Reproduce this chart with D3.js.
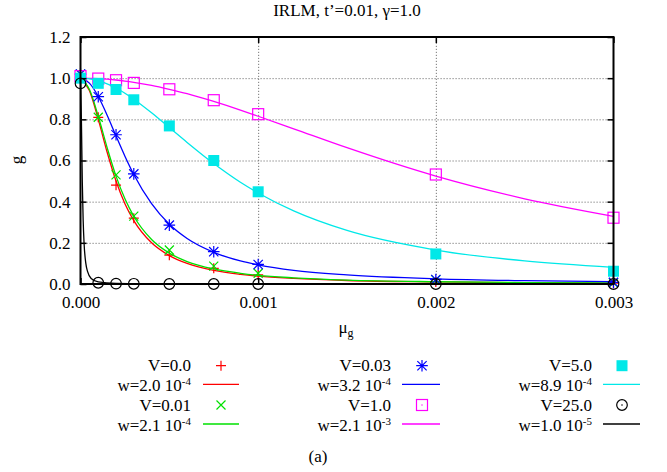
<!DOCTYPE html>
<html><head><meta charset="utf-8">
<script src="https://cdn.jsdelivr.net/npm/d3@7"></script>
<style>
body{margin:0;background:#fff}
text{font-family:"Liberation Serif","Times New Roman",serif;fill:#000}
</style>
</head><body>
<svg id="c" width="667" height="472"></svg>
<script>
// ---------- data ----------
const title = "IRLM, t\u2019=0.01, \u03b3=1.0";
const xTicks = [0, 0.001, 0.002, 0.003];
const xTickLabels = ["0.000", "0.001", "0.002", "0.003"];
const yTicks = [0, 0.2, 0.4, 0.6, 0.8, 1.0, 1.2];
const yTickLabels = ["0.0", "0.2", "0.4", "0.6", "0.8", "1.0", "1.2"];

// measured points (mu_g)
const muPoints = [0, 0.0001, 0.0002, 0.0003, 0.0005, 0.00075, 0.001, 0.002, 0.003];
const gV00  = [1.00, 0.81, 0.48, 0.32, 0.14, 0.076, 0.044, 0.010, 0.004];
const gV001 = [1.02, 0.81, 0.53, 0.33, 0.165, 0.087, 0.052, 0.020, 0.006];
const gV003 = [1.02, 0.91, 0.725, 0.535, 0.286, 0.157, 0.095, 0.022, 0.008];
const gV1   = [1.01, 0.998, 0.99, 0.977, 0.946, 0.893, 0.825, 0.532, 0.322];
const gV5   = [1.00, 0.975, 0.945, 0.895, 0.768, 0.60, 0.448, 0.146, 0.062];
const gV25  = [0.975, 0.006, 0.002, 0.001, 0.0, 0.0, 0.0, 0.0, 0.0];

// fitted curves
const muCurve = [0, 0.00005, 0.0001, 0.00015, 0.0002, 0.00025, 0.0003, 0.0004, 0.0005, 0.0006, 0.00075, 0.0009, 0.001, 0.0012, 0.0015, 0.002, 0.0025, 0.003];
const fitW20e4 = [1.0, 0.94, 0.80, 0.64, 0.50, 0.39, 0.308, 0.20, 0.138, 0.10, 0.066, 0.047, 0.038, 0.027, 0.017, 0.010, 0.006, 0.004];
const fitW21e4 = [1.0, 0.946, 0.815, 0.662, 0.524, 0.414, 0.329, 0.216, 0.15, 0.109, 0.073, 0.052, 0.042, 0.030, 0.019, 0.011, 0.007, 0.005];
const fitW32e4 = [1.0, 0.976, 0.911, 0.82, 0.719, 0.621, 0.532, 0.39, 0.29, 0.221, 0.154, 0.112, 0.093, 0.066, 0.044, 0.025, 0.016, 0.011];
const fitW21e3 = [1.0, 0.999, 0.998, 0.995, 0.991, 0.986, 0.98, 0.965, 0.946, 0.925, 0.887, 0.845, 0.815, 0.754, 0.662, 0.524, 0.414, 0.329];
const fitW89e4 = [1.0, 0.997, 0.988, 0.972, 0.952, 0.927, 0.898, 0.832, 0.76, 0.688, 0.585, 0.494, 0.442, 0.355, 0.26, 0.165, 0.112, 0.081];
const muCurveBlack = [0, 0.000005, 0.00001, 0.000015, 0.00002, 0.00003, 0.00004, 0.00006, 0.0001, 0.0002, 0.0005, 0.001, 0.002, 0.003];
const fitW10e5 = [1.0, 0.80, 0.50, 0.31, 0.20, 0.10, 0.06, 0.027, 0.01, 0.003, 0.0005, 0.0001, 0, 0];

const vLabels = ["V=0.0", "V=0.01", "V=0.03", "V=1.0", "V=5.0", "V=25.0"];
const wMantissa = ["w=2.0 10", "w=2.1 10", "w=3.2 10", "w=2.1 10", "w=8.9 10", "w=1.0 10"];
const wExponent = ["-4", "-4", "-4", "-3", "-4", "-5"];
const colors = ["#ff0000", "#00e000", "#0000ff", "#ff00ff", "#00e8e8", "#000000"];
const symbols = ["plus", "cross", "star", "osquare", "fsquare", "ocircle"];

const series = [
  {pts: gV00,  cx: muCurve, cy: fitW20e4},
  {pts: gV001, cx: muCurve, cy: fitW21e4},
  {pts: gV003, cx: muCurve, cy: fitW32e4},
  {pts: gV1,   cx: muCurve, cy: fitW21e3},
  {pts: gV5,   cx: muCurve, cy: fitW89e4},
  {pts: gV25,  cx: muCurveBlack, cy: fitW10e5}
].map((s, i) => Object.assign(s, {v: vLabels[i], wm: wMantissa[i], we: wExponent[i], color: colors[i], sym: symbols[i]}));

// ---------- layout ----------
const L = 80.5, R = 613.5, T = 37, B = 284;
const svg = d3.select("#c");
const x = d3.scaleLinear().domain([0, 0.003]).range([L, R]);
const y = d3.scaleLinear().domain([0, 1.2]).range([B, T]);

// grid
const gridStyle = g => {
  g.select(".domain").remove();
  g.selectAll("line").attr("stroke", "#777").attr("stroke-width", 1).attr("stroke-dasharray", "1.2,1.8");
};
svg.append("g").attr("transform", `translate(0,${B})`)
  .call(d3.axisBottom(x).tickValues(xTicks.slice(1, -1)).tickSize(-(B - T)).tickFormat(""))
  .call(gridStyle);
svg.append("g").attr("transform", `translate(${L},0)`)
  .call(d3.axisLeft(y).tickValues(yTicks.slice(1, -1)).tickSize(-(R - L)).tickFormat(""))
  .call(gridStyle);

// marker drawing
function drawMarker(g, sym, color, s, legend) {
  const st = {stroke: color, "stroke-width": 1.2, fill: "none"};
  const apply = (el, o) => { for (const k in o) el.attr(k, o[k]); return el; };
  if (sym === "plus") apply(g.append("path").attr("d", `M${-s},0H${s}M0,${-s}V${s}`), st);
  else if (sym === "cross") { const c = s * 0.9; apply(g.append("path").attr("d", `M${-c},${-c}L${c},${c}M${-c},${c}L${c},${-c}`), st); }
  else if (sym === "star") { const c = s * 0.8; apply(g.append("path").attr("d", `M${-s},0H${s}M0,${-s}V${s}M${-c},${-c}L${c},${c}M${-c},${c}L${c},${-c}`), st); }
  else if (sym === "osquare") {
    apply(g.append("rect").attr("x", -s).attr("y", -s).attr("width", 2 * s).attr("height", 2 * s), st);
    if (legend) g.append("rect").attr("x", -0.6).attr("y", -0.6).attr("width", 1.2).attr("height", 1.2).attr("fill", color);
  }
  else if (sym === "fsquare") g.append("rect").attr("x", -s).attr("y", -s).attr("width", 2 * s).attr("height", 2 * s).attr("fill", color);
  else if (sym === "ocircle") {
    apply(g.append("circle").attr("r", s), st);
    if (legend) g.append("circle").attr("r", 0.8).attr("fill", color);
  }
}
const symSize = {plus: 5, cross: 5, star: 5.8, osquare: 5.5, fsquare: 5.5, ocircle: 5.3};

const line = d3.line().curve(d3.curveMonotoneX);
series.forEach(s => {
  svg.append("path")
    .attr("d", line(s.cx.map((m, i) => [x(m), y(s.cy[i])])))
    .attr("fill", "none").attr("stroke", s.color).attr("stroke-width", 1.3);
  muPoints.forEach((m, i) => {
    const g = svg.append("g").attr("transform", `translate(${x(m)},${y(s.pts[i])})`);
    drawMarker(g, s.sym, s.color, symSize[s.sym], false);
  });
});

// axes (ticks inward on all four sides)
const axStyle = g => {
  g.select(".domain").remove();
  g.selectAll(".tick line").attr("stroke", "#000").attr("stroke-width", 1.5);
  g.selectAll("text").attr("font-size", 17).attr("font-family", "Liberation Serif, serif").attr("fill", "#000");
};
svg.append("g").attr("transform", `translate(0,${B})`)
  .call(d3.axisBottom(x).tickValues(xTicks).tickSize(-6).tickPadding(12).tickFormat((d, i) => xTickLabels[i]))
  .call(axStyle);
svg.append("g").attr("transform", `translate(0,${T})`)
  .call(d3.axisTop(x).tickValues(xTicks).tickSize(-6).tickFormat(""))
  .call(axStyle);
svg.append("g").attr("transform", `translate(${L},0)`)
  .call(d3.axisLeft(y).tickValues(yTicks).tickSize(-6).tickPadding(10).tickFormat((d, i) => yTickLabels[i]))
  .call(axStyle);
svg.append("g").attr("transform", `translate(${R},0)`)
  .call(d3.axisRight(y).tickValues(yTicks).tickSize(-6).tickFormat(""))
  .call(axStyle);

// frame
svg.append("rect").attr("x", L).attr("y", T).attr("width", R - L).attr("height", B - T)
  .attr("fill", "none").attr("stroke", "#000").attr("stroke-width", 2);

// title and labels
svg.append("text").attr("x", 347).attr("y", 16).attr("text-anchor", "middle").attr("font-size", 17).text(title);
const xl = svg.append("text").attr("x", 346).attr("y", 333).attr("text-anchor", "middle").attr("font-size", 17);
xl.append("tspan").text("\u03bc");
xl.append("tspan").attr("font-size", 12).attr("dy", 4).text("g");
svg.append("text").attr("transform", "translate(22,160) rotate(-90)").attr("text-anchor", "middle").attr("font-size", 17).text("g");
svg.append("text").attr("x", 318).attr("y", 462).attr("text-anchor", "middle").attr("font-size", 17).text("(a)");

// legend
const colTextRight = [191, 391, 592];
const colMarkerX = [221, 422, 622];
const colLineX = [[203, 239], [402, 440], [603, 640]];
const rowMarkerY = [365.7, 405];
const rowLineY = [384.3, 424];
series.forEach((s, i) => {
  const c = Math.floor(i / 2), r = i % 2;
  svg.append("text").attr("x", colTextRight[c]).attr("y", rowMarkerY[r] + 5.5)
    .attr("text-anchor", "end").attr("font-size", 17).text(s.v);
  const g = svg.append("g").attr("transform", `translate(${colMarkerX[c]},${rowMarkerY[r]})`);
  drawMarker(g, s.sym, s.color, symSize[s.sym], true);
  const t = svg.append("text").attr("x", colTextRight[c]).attr("y", rowLineY[r] + 6.5)
    .attr("text-anchor", "end").attr("font-size", 17);
  t.append("tspan").text(s.wm);
  t.append("tspan").attr("font-size", 11).attr("dy", -5.5).text(s.we);
  svg.append("line").attr("x1", colLineX[c][0]).attr("x2", colLineX[c][1])
    .attr("y1", rowLineY[r]).attr("y2", rowLineY[r]).attr("stroke", s.color).attr("stroke-width", 1.3);
});
</script>
</body></html>
